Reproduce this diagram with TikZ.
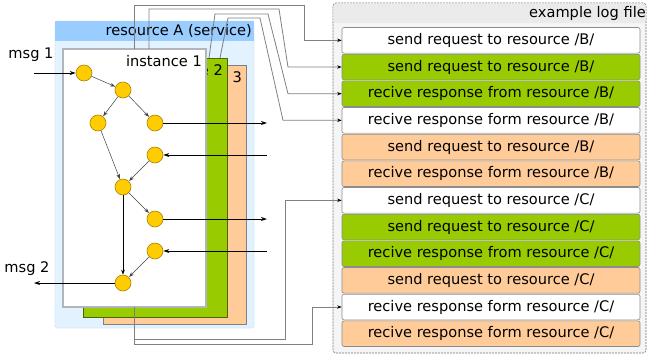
\documentclass[tikz,border=0pt]{standalone}
\usepackage{fontspec}
\setmainfont{DejaVu Sans}
\usetikzlibrary{arrows.meta}

\definecolor{resfill}{HTML}{E3F2FF}
\definecolor{resedge}{HTML}{BBD8F2}
\definecolor{reshead}{HTML}{99CCFF}
\definecolor{greenbox}{HTML}{99CC00}
\definecolor{greenedge}{HTML}{4F6300}
\definecolor{orangebox}{HTML}{FFCC99}
\definecolor{dotfill}{HTML}{FFCC00}
\definecolor{dotedge}{HTML}{A88400}
\definecolor{logfill}{HTML}{F5F5F5}
\definecolor{loghead}{HTML}{EBEBEB}
\definecolor{rowedge}{HTML}{8C8C8C}
\definecolor{connline}{HTML}{808080}
\definecolor{instedge}{HTML}{B0B6BC}

\tikzset{
  txt/.style={font=\fontsize{14.6}{17}\selectfont, inner sep=0pt},
  panel/.style={anchor=north west, inner sep=0pt, outer sep=0pt},
  dot/.style={circle, fill=dotfill, draw=dotedge, line width=0.6pt,
    minimum size=16pt, inner sep=0pt},
  edge/.style={draw=black!75, line width=0.5pt,
    -{Stealth[length=5pt,width=3.6pt]}, shorten >=0.3pt},
  mainedge/.style={draw=black, line width=0.9pt,
    -{Stealth[length=5pt,width=3.6pt]}},
  ioarrow/.style={draw=black, line width=0.9pt,
    -{Stealth[length=6pt,width=4pt]}},
  conn/.style={draw=connline, line width=0.8pt,
    -{Stealth[length=4.5pt,width=3.4pt,black]}},
  logrow/.style={draw=rowedge, line width=0.6pt, rounded corners=2pt,
    minimum width=298pt, minimum height=25.6pt, inner sep=0pt,
    font=\fontsize{14.6}{17}\selectfont},
}

\begin{document}
\begin{tikzpicture}[x=1pt, y=-1pt]
\useasboundingbox (0,0) rectangle (648,354);

% ---- service container ----
\node[panel, fill=resfill, draw=resedge, densely dotted, line width=0.6pt,
  rounded corners=1.5pt, minimum width=199pt, minimum height=307pt]
  (resA) at (55,21) {};
\node[panel, fill=reshead, minimum width=199pt, minimum height=20pt]
  (resAhead) at (55,21) {};
\node[txt, anchor=east] (resAlbl) at (252,31) {resource A (service)};

% ---- instances ----
\node[panel, fill=orangebox, draw=black!50, line width=0.8pt,
  minimum width=143pt, minimum height=259pt] (inst3) at (103,65) {};
\node[txt, anchor=east] (inst3lbl) at (242,77) {instance 3};

\node[panel, fill=greenbox, draw=greenedge, line width=0.6pt,
  minimum width=144pt, minimum height=259pt] (inst2) at (83,58) {};
\node[txt, anchor=east] (inst2lbl) at (223,70) {instance 2};

\node[panel, fill=white, draw=instedge, line width=1.2pt,
  minimum width=143pt, minimum height=258pt] (inst1) at (63,49) {};
\node[txt, anchor=east] (inst1lbl) at (202,61) {instance 1};

% ---- processing steps ----
\node[dot] (n1) at (84,73) {};
\node[dot] (n2) at (123,90) {};
\node[dot] (n3) at (98,123) {};
\node[dot] (n4) at (155,123) {};
\node[dot] (n5) at (155,155) {};
\node[dot] (n6) at (123,187) {};
\node[dot] (n7) at (155,219) {};
\node[dot] (n8) at (155,251) {};
\node[dot] (n9) at (123,283) {};

\draw[edge] (n1) -- (n2);
\draw[edge] (n2) -- (n3);
\draw[edge] (n2) -- (n4);
\draw[edge] (n3) -- (n6);
\draw[edge] (n5) -- (n6);
\draw[edge] (n6) -- (n7);
\draw[edge] (n8) -- (n9);
\draw[mainedge] (n6) -- (n9);

% ---- incoming / outgoing messages ----
\coordinate (m1) at (34,73);
\coordinate (m2) at (34,283);
\coordinate (o1) at (267,123);
\coordinate (i1) at (267,155);
\coordinate (o2) at (267,219);
\coordinate (i2) at (267,251);

\node[txt] (msg1) at (31,55) {msg 1};
\node[txt] (msg2) at (27,269) {msg 2};

\draw[ioarrow] (m1) -- (n1);
\draw[ioarrow] (n9) -- (m2);
\draw[ioarrow] (n4) -- (o1);
\draw[ioarrow] (i1) -- (n5);
\draw[ioarrow] (n7) -- (o2);
\draw[ioarrow] (i2) -- (n8);

% ---- log file ----
\node[panel, fill=logfill, draw=black!55, dash pattern=on 2pt off 1pt,
  line width=0.6pt, rounded corners=3pt, minimum width=313pt,
  minimum height=350pt] (log) at (333,3) {};
\fill[loghead, rounded corners=3pt] (333.4,3.4) rectangle (645.6,23);
\node[txt, anchor=east] (loglbl) at (646,13) {example log file};

\node[logrow, fill=white]     (r1)  at (491,40.3)  {send request to resource /B/};
\node[logrow, fill=greenbox]  (r2)  at (491,67.0)  {send request to resource /B/};
\node[logrow, fill=greenbox]  (r3)  at (491,93.7)  {recive response from resource /B/};
\node[logrow, fill=white]     (r4)  at (491,120.3) {recive response form resource /B/};
\node[logrow, fill=orangebox] (r5)  at (491,147.0) {send request to resource /B/};
\node[logrow, fill=orangebox] (r6)  at (491,173.7) {recive response form resource /B/};
\node[logrow, fill=white]     (r7)  at (491,200.3) {send request to resource /C/};
\node[logrow, fill=greenbox]  (r8)  at (491,227.0) {send request to resource /C/};
\node[logrow, fill=greenbox]  (r9)  at (491,253.7) {recive response from resource /C/};
\node[logrow, fill=orangebox] (r10) at (491,280.3) {send request to resource /C/};
\node[logrow, fill=white]     (r11) at (491,307.0) {recive response form resource /C/};
\node[logrow, fill=orangebox] (r12) at (491,333.7) {recive response form resource /C/};

% ---- links from instances to log entries ----
\coordinate (s1) at (134,49);
\coordinate (s2) at (149,49);
\coordinate (s3) at (209,58);
\coordinate (s4) at (220,58);
\coordinate (s5) at (134,307);

\draw[conn] (s1) |- (304,5) |- (r1.west);
\draw[conn] (s2) |- (279,9) -- (288,0 |- r2.west) -- (r2.west);
\draw[conn] (s3) -- (215,14) -- (268,14) -- (288,0 |- r3.west) -- (r3.west);
\draw[conn] (s4) -- (228,18) -- (260,18) -- (283,0 |- r4.west) -- (r4.west);
\draw[conn] (s5) |- (285,339) |- (r7.west);
\draw[conn] (s5) |- (312,344) |- (r11.west);

\end{tikzpicture}
\end{document}
